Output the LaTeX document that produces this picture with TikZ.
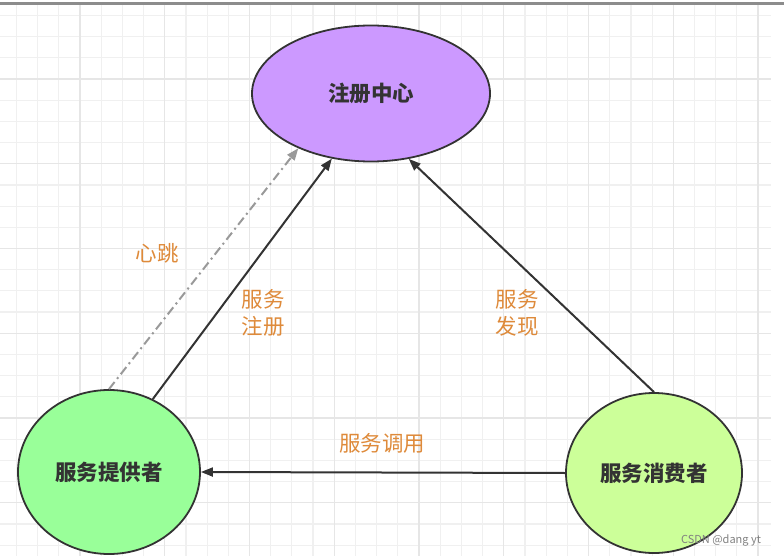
\documentclass[tikz,border=0pt]{standalone}
\usepackage{fontspec}
\newfontfamily\cjk{Noto Sans CJK SC}
\usetikzlibrary{arrows.meta,shapes.geometric}
\definecolor{regfill}{HTML}{CC99FF}
\definecolor{provfill}{HTML}{99FF99}
\definecolor{consfill}{HTML}{CCFF99}
\definecolor{labelorange}{HTML}{DE8A3A}
\definecolor{gridminor}{HTML}{F0F0F0}
\definecolor{gridmajor}{HTML}{E6E6E6}
\tikzset{
  party/.style={draw=black!80, line width=1.8pt, ellipse, font=\cjk\bfseries\fontsize{21.5}{24}\selectfont, text=black!80},
  flow/.style={draw=black!80, line width=2pt, -{Triangle[length=12pt,width=9pt]}},
  beat/.style={draw=black!40, line width=2pt, dash pattern=on 9pt off 4pt on 2pt off 4pt, -{Triangle[length=12pt,width=9pt]}},
  tag/.style={font=\cjk\fontsize{21.5}{27}\selectfont, text=labelorange, align=center}
}
\begin{document}
\begin{tikzpicture}[x=1pt,y=-1pt]
\useasboundingbox (0,0) rectangle (784,556);
\foreach \k in {0,...,35} \path[draw,gridminor,line width=1.2pt] ({16.4+21.19*\k},5) -- ({16.4+21.19*\k},556);
\foreach \k in {0,...,25} \path[draw,gridminor,line width=1.2pt] (0,{15.4+21.19*\k}) -- (771,{15.4+21.19*\k});
\foreach \k in {3,7,...,35} \path[draw,gridmajor,line width=1.2pt] ({16.4+21.19*\k},5) -- ({16.4+21.19*\k},556);
\foreach \k in {3,7,...,23} \path[draw,gridmajor,line width=1.2pt] (0,{15.4+21.19*\k}) -- (771,{15.4+21.19*\k});
\path[draw,black!45,line width=2.5pt] (0,3.3) -- (784,3.3);
\node[party, fill=regfill, minimum width=238pt, minimum height=136pt] (reg) at (371,93.5) {注册中心};
\node[party, fill=provfill, minimum width=182pt, minimum height=164pt] (prov) at (109,472) {服务提供者};
\node[party, fill=consfill, minimum width=176pt, minimum height=160pt] (cons) at (654,473) {服务消费者};
\path[beat] (prov.north) -- (reg.217);
\path[flow] (prov.59) -- (reg.239);
\path[flow] (cons.north) -- (reg.300);
\path[flow] (cons.west) -- (prov.east);
\node[tag] (beatlbl) at (157,253) {心跳};
\node[tag] (reglbl) at (263,313) {服务\\注册};
\node[tag] (findlbl) at (517,313) {服务\\发现};
\node[tag] (calllbl) at (382,443) {服务调用};
\node[font=\cjk\fontsize{11}{13}\selectfont, text=black!50] (mark) at (721,540) {CSDN @dang yt};
\end{tikzpicture}
\end{document}
